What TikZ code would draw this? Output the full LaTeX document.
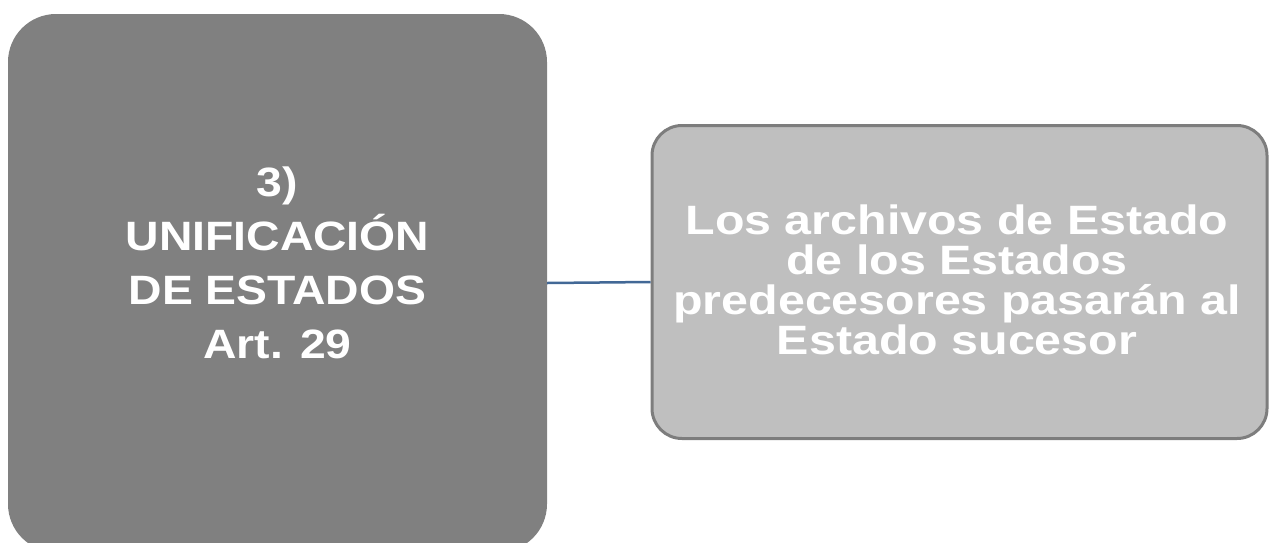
\documentclass[tikz,border=0pt]{standalone}
\usepackage{fontspec}
\setmainfont{Liberation Sans}
\usetikzlibrary{positioning}
\tikzstyle{diagram} = [x = 1pt, y = -1pt]
\definecolor{darkBox}{RGB}{128,128,128}
\definecolor{lightBox}{RGB}{191,191,191}
\definecolor{lightEdge}{RGB}{125,125,125}
\definecolor{linkColor}{RGB}{66,104,150}
\tikzstyle{bigBox} = [fill=darkBox, rounded corners = 48pt, minimum width = 539pt, minimum height = 538pt, inner sep = 0]
\tikzstyle{smallBox} = [draw=lightEdge, line width = 3pt, fill=lightBox, rounded corners = 30pt, minimum width = 615pt, minimum height = 313pt, inner sep = 0]
\tikzstyle{boxText} = [text=white, align=center, inner sep = 0, transform shape]
\tikzstyle{link} = [color=linkColor, line width = 2.5pt]
\newcommand{\bigFont}{\fontsize{41}{54}\selectfont\bfseries}
\newcommand{\smallFont}{\fontsize{41}{40}\selectfont\bfseries}

\begin{document}
\begin{tikzpicture}[diagram]
  \useasboundingbox (0,0) rectangle (1270,542);
  \node [bigBox] (unif) at (277.5,283) {};
  \node [smallBox] (archivos) at (959.5,282) {};
  \draw [link] (unif.east) -- (archivos.west);

  \node [boxText, font=\bigFont, xscale=1.13] (unifText) at (277.5,263)
    {3)\\UNIFICACIÓN\\DE ESTADOS\\Art. 29};
  \node [boxText, font=\smallFont, xscale=1.18] (archivosText) at (957,279.5)
    {Los archivos de Estado\\de los Estados\\predecesores pasarán al\\Estado sucesor};
\end{tikzpicture}
\end{document}
